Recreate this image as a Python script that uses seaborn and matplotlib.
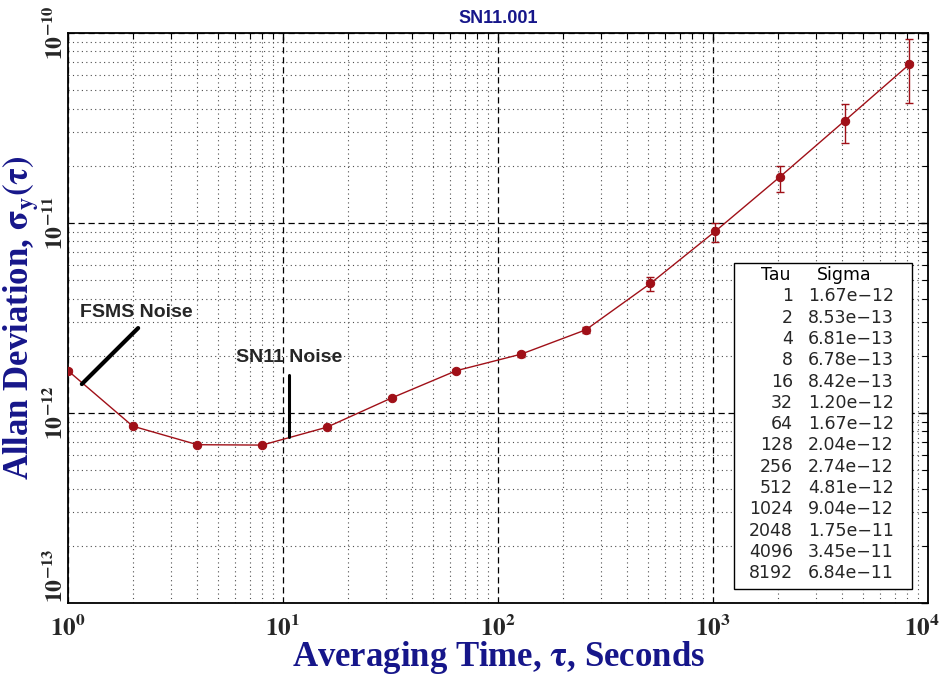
import numpy as np
import pandas as pd
import matplotlib
matplotlib.use("Agg")
import matplotlib.pyplot as plt
import matplotlib.transforms as mtransforms
from matplotlib.patches import Rectangle
from matplotlib.ticker import FixedLocator, FixedFormatter, LogLocator, NullFormatter
import seaborn as sns

# ---- data ----
tau = [1, 2, 4, 8, 16, 32, 64, 128, 256, 512, 1024, 2048, 4096, 8192]
sigma = [1.67e-12, 8.53e-13, 6.81e-13, 6.78e-13, 8.42e-13, 1.20e-12, 1.67e-12,
         2.04e-12, 2.74e-12, 4.81e-12, 9.04e-12, 1.75e-11, 3.45e-11, 6.84e-11]
sigma_low = [1.64e-12, 8.40e-13, 6.72e-13, 6.69e-13, 8.30e-13, 1.18e-12, 1.63e-12,
             1.98e-12, 2.64e-12, 4.39e-12, 7.94e-12, 1.46e-11, 2.64e-11, 4.28e-11]
sigma_high = [1.70e-12, 8.66e-13, 6.90e-13, 6.87e-13, 8.54e-13, 1.22e-12, 1.71e-12,
              2.10e-12, 2.84e-12, 5.20e-12, 1.00e-11, 2.00e-11, 4.23e-11, 9.30e-11]
x_ticks = [1, 10, 100, 1000, 10000]
x_ticklabels = [r"$\mathbf{10^{0}}$", r"$\mathbf{10^{1}}$", r"$\mathbf{10^{2}}$",
                r"$\mathbf{10^{3}}$", r"$\mathbf{10^{4}}$"]
y_ticks = [1e-13, 1e-12, 1e-11, 1e-10]
y_ticklabels = [r"$\mathbf{10^{-13}}$", r"$\mathbf{10^{-12}}$", r"$\mathbf{10^{-11}}$",
                r"$\mathbf{10^{-10}}$"]
title = "SN11.001"
xlabel = r"Averaging Time, $\mathbf{\tau}$, Seconds"
ylabel = r"Allan Deviation, $\mathbf{\sigma_y(\tau)}$"
table_header = ["Tau", "Sigma"]

df = pd.DataFrame({"tau": tau, "sigma": sigma})

sns.set_style("white")
plt.rcParams["mathtext.fontset"] = "stix"
plt.rcParams["font.family"] = ["DejaVu Sans"]

RED = "#a01018"
NAVY = "#16168a"

fig = plt.figure(figsize=(9.43, 6.79), dpi=100)
ax = fig.add_axes([0.0721, 0.1119, 0.912, 0.8395])

ax.set_xscale("log")
ax.set_yscale("log")

sns.lineplot(data=df, x="tau", y="sigma", ax=ax, color=RED, linewidth=1.0,
             marker="o", markersize=6, markeredgecolor=RED, markerfacecolor=RED,
             zorder=5)
s = np.array(sigma)
ax.errorbar(tau, sigma, yerr=[s - np.array(sigma_low), np.array(sigma_high) - s],
            fmt="none", ecolor=RED, elinewidth=1.0, capsize=3, capthick=1.0, zorder=4)

ax.set_xlim(1, 1e4)
ax.set_ylim(1e-13, 1e-10)

ax.xaxis.set_major_locator(FixedLocator(x_ticks))
ax.xaxis.set_major_formatter(FixedFormatter(x_ticklabels))
ax.yaxis.set_major_locator(FixedLocator(y_ticks))
ax.yaxis.set_major_formatter(FixedFormatter(y_ticklabels))
ax.xaxis.set_minor_locator(LogLocator(base=10, subs=np.arange(2, 10), numticks=20))
ax.yaxis.set_minor_locator(LogLocator(base=10, subs=np.arange(2, 10), numticks=20))
ax.xaxis.set_minor_formatter(NullFormatter())
ax.yaxis.set_minor_formatter(NullFormatter())

ax.grid(which="major", color="black", linestyle=(0, (5, 3)), linewidth=0.9)
ax.grid(which="minor", color="0.3", linestyle=(0, (1, 3)), linewidth=0.8)

ax.tick_params(which="both", direction="in", top=True, right=True, color="black")
ax.tick_params(which="major", length=5, width=1)
ax.tick_params(which="minor", length=4, width=0.8)
ax.tick_params(axis="x", which="major", labelsize=18, pad=9)
ax.tick_params(axis="y", which="major", labelsize=17, pad=1)
for lab in ax.get_yticklabels():
    lab.set_rotation(90)
    lab.set_va("center")
ylabs = ax.get_yticklabels()
ylabs[0].set_va("bottom")
xlabs = ax.get_xticklabels()
xlabs[-1].set_transform(xlabs[-1].get_transform() +
                        mtransforms.ScaledTranslation(-6 / 100, 0, fig.dpi_scale_trans))

for sp in ax.spines.values():
    sp.set_color("black")
    sp.set_linewidth(1.3)

ax.set_title(title, color=NAVY, fontsize=13, fontweight="bold",
             family=["Liberation Sans"], pad=7)
ax.set_xlabel(xlabel, color=NAVY, fontsize=25, fontweight="bold",
              family=["Liberation Serif"], va="top")
ax.set_ylabel(ylabel, color=NAVY, fontsize=25, fontweight="bold",
              family=["Liberation Serif"])
ax.xaxis.set_label_coords(0.5, -0.063)
ax.yaxis.set_label_coords(-0.031, 0.5)

# annotations
ax.text(1.14, 3.4e-12, "FSMS Noise", fontsize=14, fontweight="bold",
        family=["Liberation Sans"], va="center", ha="left")
ax.plot([1.16, 2.12], [1.42e-12, 2.8e-12], color="black", linewidth=3, zorder=6)
ax.text(6.07, 1.95e-12, "SN11 Noise", fontsize=14, fontweight="bold",
        family=["Liberation Sans"], va="center", ha="left")
ax.plot([10.7, 10.7], [1.58e-12, 7.48e-13], color="black", linewidth=2.2, zorder=6)

# table box
box = Rectangle((0.7744, 0.02456), 0.9814 - 0.7744, 0.5965 - 0.02456,
                transform=ax.transAxes, facecolor="white", edgecolor="black",
                linewidth=1.0, zorder=7)
ax.add_patch(box)
row_h = 0.03737
y0 = 0.5754
ax.text(0.840, y0, table_header[0], transform=ax.transAxes, fontsize=12.5,
        ha="right", va="center", zorder=8, color="black")
ax.text(0.871, y0, table_header[1], transform=ax.transAxes, fontsize=12.5,
        ha="left", va="center", zorder=8, color="black")
for i, (t, sv) in enumerate(zip(tau, sigma)):
    yy = y0 - (i + 1) * row_h
    ax.text(0.843, yy, f"{t}", transform=ax.transAxes, fontsize=12.5,
            ha="right", va="center", zorder=8)
    ax.text(0.8605, yy, f"{sv:.2e}".replace("-", "\u2212"), transform=ax.transAxes,
            fontsize=12.5, ha="left", va="center", zorder=8)

fig.savefig("out.png", dpi=100)
